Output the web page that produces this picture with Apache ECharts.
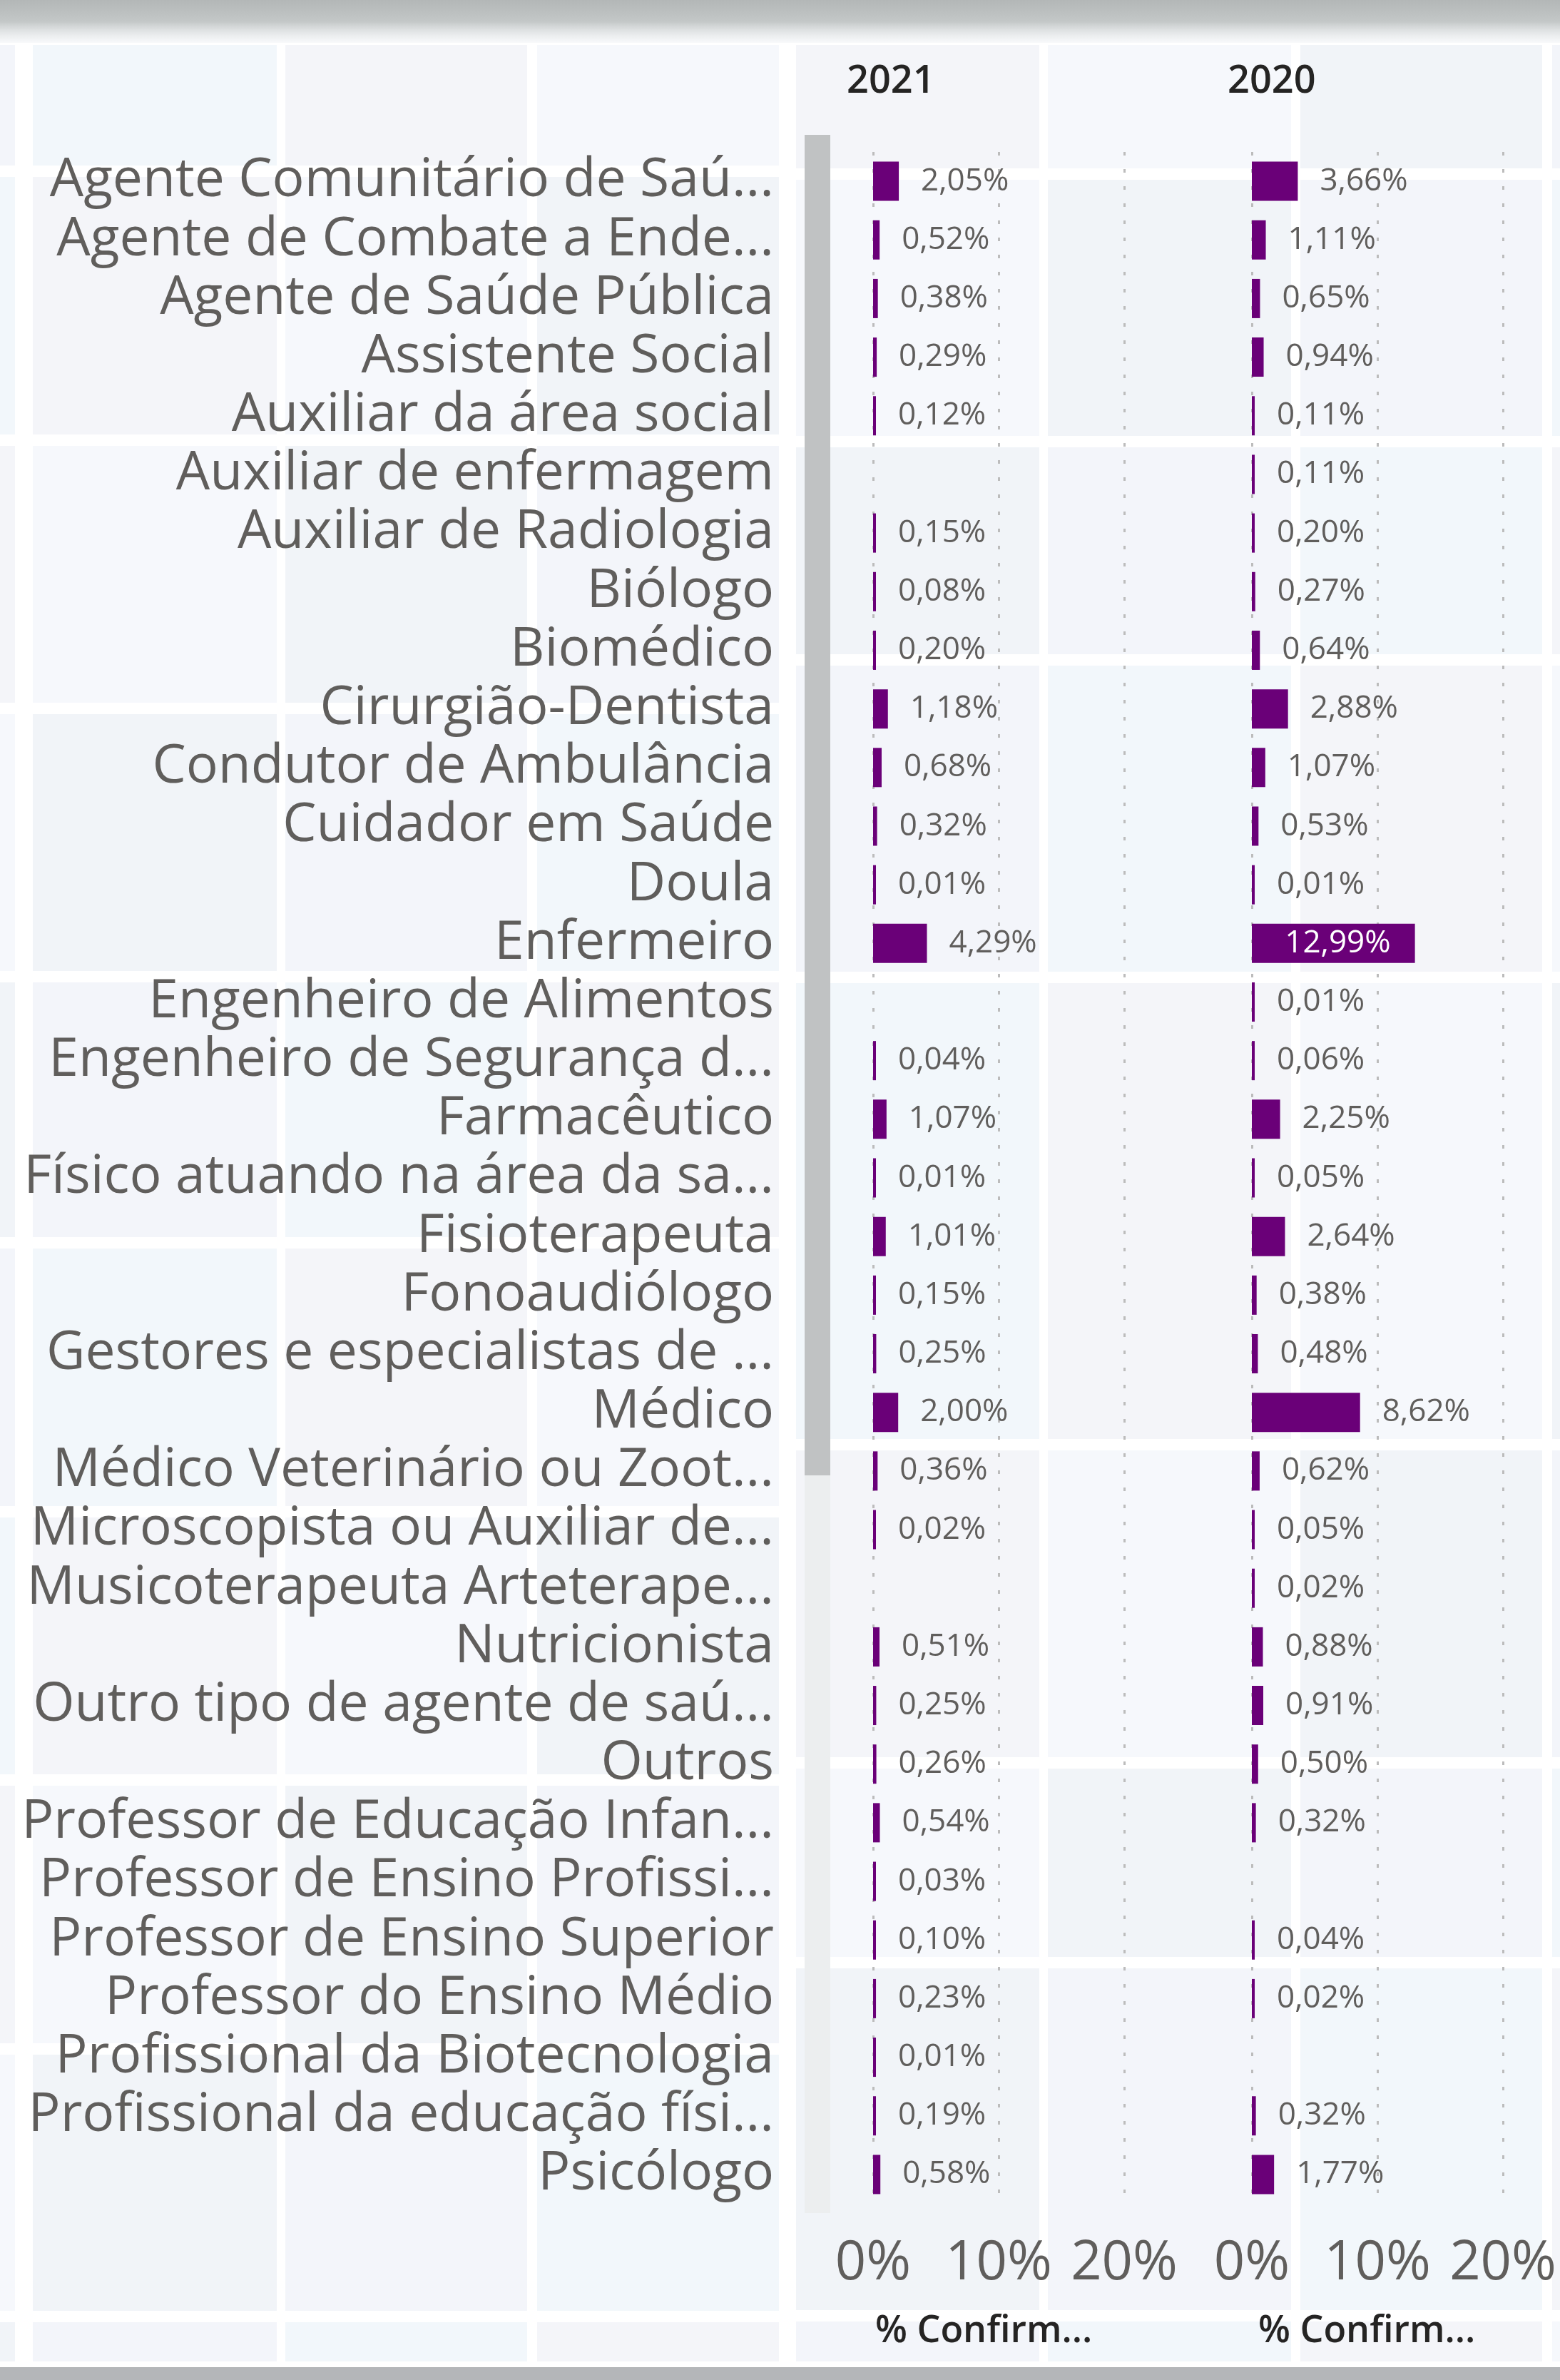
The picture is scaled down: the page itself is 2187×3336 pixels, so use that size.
<!DOCTYPE html>
<html>
<head>
<meta charset="utf-8">
<script src="https://cdn.jsdelivr.net/npm/echarts@6/dist/echarts.min.js"></script>
<style>
    html, body { margin: 0; padding: 0; background: #ffffff; }
    #chart { width: 2187px; height: 3336px; }
</style>
</head>
<body>
<div id="chart"></div>
<script>
// categorias (como aparecem truncadas no visual)
const categories = [
    'Agente Comunitário de Saú...',
    'Agente de Combate a Ende...',
    'Agente de Saúde Pública',
    'Assistente Social',
    'Auxiliar da área social',
    'Auxiliar de enfermagem',
    'Auxiliar de Radiologia',
    'Biólogo',
    'Biomédico',
    'Cirurgião-Dentista',
    'Condutor de Ambulância',
    'Cuidador em Saúde',
    'Doula',
    'Enfermeiro',
    'Engenheiro de Alimentos',
    'Engenheiro de Segurança d...',
    'Farmacêutico',
    'Físico atuando na área da sa...',
    'Fisioterapeuta',
    'Fonoaudiólogo',
    'Gestores e especialistas de ...',
    'Médico',
    'Médico Veterinário ou Zoot...',
    'Microscopista ou Auxiliar de...',
    'Musicoterapeuta Arteterape...',
    'Nutricionista',
    'Outro tipo de agente de saú...',
    'Outros',
    'Professor de Educação Infan...',
    'Professor de Ensino Profissi...',
    'Professor de Ensino Superior',
    'Professor do Ensino Médio',
    'Profissional da Biotecnologia',
    'Profissional da educação físi...',
    'Psicólogo'
]

// % confirmados 2021
const values2021 = [2.05, 0.52, 0.38, 0.29, 0.12, null, 0.15, 0.08, 0.20, 1.18, 0.68, 0.32, 0.01, 4.29,
    null, 0.04, 1.07, 0.01, 1.01, 0.15, 0.25, 2.00, 0.36, 0.02, null, 0.51, 0.25, 0.26, 0.54, 0.03,
    0.10, 0.23, 0.01, 0.19, 0.58]

// % confirmados 2020
const values2020 = [3.66, 1.11, 0.65, 0.94, 0.11, 0.11, 0.20, 0.27, 0.64, 2.88, 1.07, 0.53, 0.01, 12.99,
    0.01, 0.06, 2.25, 0.05, 2.64, 0.38, 0.48, 8.62, 0.62, 0.05, 0.02, 0.88, 0.91, 0.50, 0.32, null,
    0.04, 0.02, null, 0.32, 1.77]

const panelTitles = ['2021', '2020']
const axisTitle = '% Confirm...'
const axisTicks = [0, 10, 20]

const FONT = '"Open Sans", "Noto Sans", sans-serif'
const GRAY = '#605e5c'
const DARK = '#252423'
const PURPLE = '#6a0078'

// fundo em mosaico (decoração)
const colsLeft = [[0, 21], [46, 388], [400, 739], [753, 1092]]
const colsRight = [[1116, 1457], [1469, 1810], [1823, 2162], [2176, 2187]]
const breaksLeft = [55, 240, 617, 993, 1369, 1742, 2119, 2495, 2872, 3247, 3318]
const breaksRight = [55, 244, 619, 925, 1370, 2025, 2471, 2751, 3246, 3318]
const tints = ['#f3f5fa', '#f2f7fb', '#f4f5f9', '#f6f8fc', '#f1f4f8']

let graphics = []
function addTiles(cols, breaks, seed) {
    cols.forEach((c, ci) => {
        for (let i = 0; i < breaks.length - 1; i++) {
            graphics.push({
                type: 'rect', z: -10, silent: true,
                shape: {x: c[0], y: breaks[i] + 8, width: c[1] - c[0], height: breaks[i + 1] - breaks[i] - 16},
                style: {fill: tints[(ci + i + seed) % tints.length]}
            })
        }
    })
}
addTiles(colsLeft, breaksLeft, 0)
addTiles(colsRight, breaksRight, 2)

// faixa cinza no topo e na base
graphics.push({
    type: 'rect', z: -5, silent: true,
    shape: {x: 0, y: 0, width: 2187, height: 60},
    style: {
        fill: new echarts.graphic.LinearGradient(0, 0, 0, 1, [
            {offset: 0, color: '#b3b7b7'},
            {offset: 0.5, color: '#c3c7c7'},
            {offset: 1, color: 'rgba(240,243,246,0.5)'}
        ])
    }
})
graphics.push({
    type: 'rect', z: -5, silent: true,
    shape: {x: 0, y: 3318, width: 2187, height: 18},
    style: {fill: '#b4b6b9'}
})

// barra de rolagem
graphics.push({
    type: 'rect', z: 1, silent: true,
    shape: {x: 1128, y: 189, width: 36, height: 2913},
    style: {fill: '#eceeef'}
})
graphics.push({
    type: 'rect', z: 1, silent: true,
    shape: {x: 1128, y: 189, width: 36, height: 1879},
    style: {fill: '#c0c2c3'}
})

// títulos dos painéis e do eixo
const titleX = [1187, 1721]
const axisTitleX = [1227, 1764]
panelTitles.forEach((t, i) => {
    graphics.push({
        type: 'text', z: 5,
        style: {text: t, x: titleX[i], y: 115, fill: DARK, fontFamily: FONT, fontSize: 54, fontWeight: 600, verticalAlign: 'middle'}
    })
    graphics.push({
        type: 'text', z: 5,
        style: {text: axisTitle, x: axisTitleX[i], y: 3268, fill: DARK, fontFamily: FONT, fontSize: 52, fontWeight: 600, verticalAlign: 'middle'}
    })
})

function fmt(v) {
    return v.toFixed(2).replace('.', ',') + '%'
}

function buildData(arr) {
    return arr.map(v => {
        if (v === null) return null
        if (v > 10) {
            return {value: v, label: {position: 'insideRight', distance: 34, color: '#ffffff'}}
        }
        return v
    })
}

function makeSeries(arr, idx) {
    return {
        type: 'bar',
        xAxisIndex: idx,
        yAxisIndex: idx,
        data: buildData(arr),
        barWidth: 55,
        barMinHeight: 4,
        itemStyle: {color: PURPLE},
        label: {
            show: true,
            position: 'right',
            distance: 31,
            color: GRAY,
            fontFamily: FONT,
            fontSize: 44,
            formatter: p => (p.value === null || p.value === undefined) ? '' : fmt(p.value)
        },
        silent: true
    }
}

const xAxisBase = {
    type: 'value',
    min: axisTicks[0],
    max: axisTicks[axisTicks.length - 1],
    interval: axisTicks[1] - axisTicks[0],
    axisLine: {show: false},
    axisTick: {show: false},
    splitLine: {show: true, lineStyle: {color: '#bcbcbc', width: 3, type: [5, 19]}},
    axisLabel: {
        color: GRAY, fontFamily: FONT, fontSize: 76, margin: 46,
        formatter: v => v + '%'
    }
}

const option = {
    animation: false,
    backgroundColor: 'transparent',
    graphic: graphics,
    grid: [
        {left: 1224, width: 352, top: 213, height: 2876},
        {left: 1755, width: 352, top: 213, height: 2876}
    ],
    xAxis: [
        Object.assign({gridIndex: 0}, xAxisBase),
        Object.assign({gridIndex: 1}, xAxisBase)
    ],
    yAxis: [
        {
            gridIndex: 0, type: 'category', inverse: true, data: categories,
            axisLine: {show: false}, axisTick: {show: false},
            axisLabel: {color: GRAY, fontFamily: FONT, fontSize: 75, margin: 139, interval: 0}
        },
        {
            gridIndex: 1, type: 'category', inverse: true, data: categories,
            axisLine: {show: false}, axisTick: {show: false}, axisLabel: {show: false}
        }
    ],
    series: [
        makeSeries(values2021, 0),
        makeSeries(values2020, 1)
    ]
}

const myChart = echarts.init(document.getElementById('chart'))
myChart.setOption(option)
</script>
</body>
</html>
